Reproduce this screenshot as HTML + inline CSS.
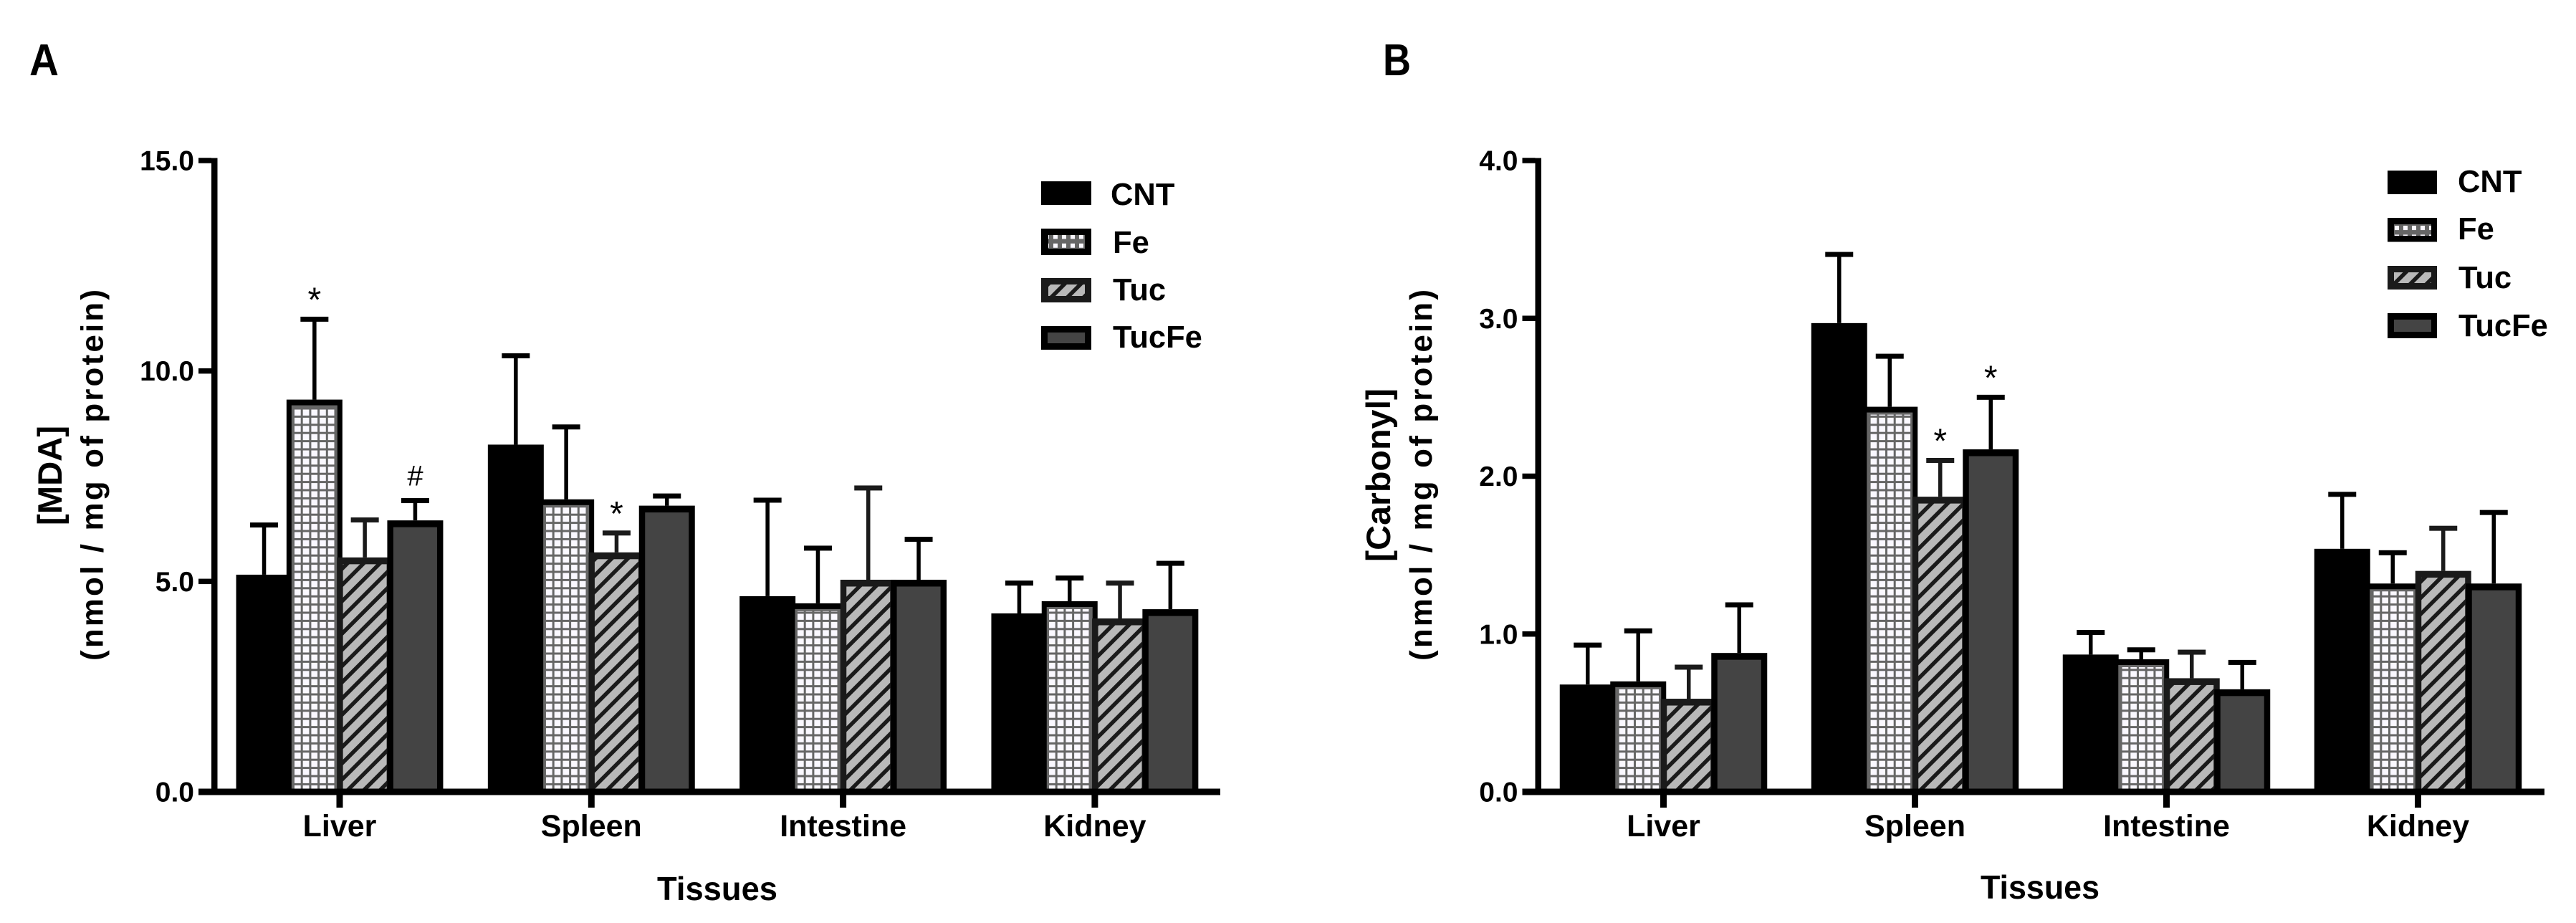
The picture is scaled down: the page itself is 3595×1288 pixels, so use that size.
<!DOCTYPE html>
<html lang="en">
<head>
<meta charset="utf-8">
<title>MDA and Carbonyl by tissue</title>
<style>
  html, body { margin: 0; padding: 0; background: #fff; }
  svg { display: block; }
  text { font-family: "Liberation Sans", Arial, sans-serif; fill: #000; }
  .b { font-weight: bold; }
</style>
</head>
<body>
<svg id="figure" xmlns="http://www.w3.org/2000/svg" width="3595" height="1288" viewBox="0 0 3595 1288">
  <defs>
    <pattern id="grid" patternUnits="userSpaceOnUse" width="11.7" height="11.4">
      <rect width="11.7" height="11.4" fill="#666"/>
      <rect x="1.5" y="1.5" width="8.7" height="8.4" fill="#faf8ff"/>
    </pattern>
    <pattern id="stripes" patternUnits="userSpaceOnUse" width="16" height="16" patternTransform="rotate(45)">
      <rect width="16" height="16" fill="#b9b9b9"/>
      <rect width="5.5" height="16" fill="#1a1a1a"/>
    </pattern>
    <pattern id="legend-grid" patternUnits="userSpaceOnUse" width="12" height="12.4" x="3" y="2">
      <rect width="12" height="12.4" fill="#666"/>
      <rect x="3" y="3" width="6" height="6" fill="#faf8ff"/>
    </pattern>
  </defs>

  <rect width="3595" height="1288" fill="#fff"/>

  <text class="b" x="41" y="105" font-size="62" textLength="41" lengthAdjust="spacingAndGlyphs">A</text>
  <text class="b" x="1930" y="105" font-size="62" textLength="39" lengthAdjust="spacingAndGlyphs">B</text>

  <text class="b" transform="translate(86,663.5) rotate(-90)" text-anchor="middle" font-size="47" textLength="139" lengthAdjust="spacingAndGlyphs">[MDA]</text>
  <text class="b" transform="translate(143.5,663) rotate(-90)" text-anchor="middle" font-size="44" textLength="518" lengthAdjust="spacing">(nmol / mg of protein)</text>
  <text class="b" x="1001" y="1256" text-anchor="middle" font-size="46" textLength="168" lengthAdjust="spacingAndGlyphs">Tissues</text>

  <text class="b" transform="translate(1940,663) rotate(-90)" text-anchor="middle" font-size="47" textLength="242" lengthAdjust="spacingAndGlyphs">[Carbonyl]</text>
  <text class="b" transform="translate(1998,663) rotate(-90)" text-anchor="middle" font-size="44" textLength="518" lengthAdjust="spacing">(nmol / mg of protein)</text>
  <text class="b" x="2847" y="1254" text-anchor="middle" font-size="46" textLength="166" lengthAdjust="spacingAndGlyphs">Tissues</text>

  <g id="panel-a"></g>
  <g id="panel-b"></g>

  <g>
    <rect x="1453" y="253" width="70" height="33" fill="#000"/>
    <text class="b" x="1550" y="286" font-size="43.5">CNT</text>
    <rect x="1453" y="319" width="70" height="37" fill="#000"/>
    <rect x="1463" y="328" width="51" height="19" fill="url(#legend-grid)"/>
    <text class="b" x="1553" y="353" font-size="43.5">Fe</text>
    <rect x="1453" y="388" width="70" height="34" fill="#1a1a1a"/>
    <rect x="1463" y="397" width="51" height="16" fill="url(#stripes)"/>
    <text class="b" x="1553" y="419" font-size="43.5">Tuc</text>
    <rect x="1453" y="455" width="70" height="33" fill="#000"/>
    <rect x="1462" y="464" width="52" height="15" fill="#444"/>
    <text class="b" x="1553" y="485" font-size="43.5">TucFe</text>
  </g>

  <g>
    <rect x="3332" y="238" width="69" height="33" fill="#000"/>
    <text class="b" x="3430" y="268" font-size="43.5">CNT</text>
    <rect x="3332" y="304" width="69" height="33.5" fill="#000"/>
    <rect x="3341" y="313" width="52" height="16" fill="url(#legend-grid)"/>
    <text class="b" x="3430" y="334" font-size="43.5">Fe</text>
    <rect x="3332" y="371" width="69" height="33" fill="#1a1a1a"/>
    <rect x="3341" y="380" width="52" height="15" fill="url(#stripes)"/>
    <text class="b" x="3431" y="402" font-size="43.5">Tuc</text>
    <rect x="3332" y="437" width="69" height="35" fill="#000"/>
    <rect x="3341" y="446" width="52" height="17" fill="#444"/>
    <text class="b" x="3431" y="469" font-size="43.5">TucFe</text>
  </g>
</svg>

<script>
// Shared categories and groups
const tissues = ['Liver', 'Spleen', 'Intestine', 'Kidney'];
const groups = ['CNT', 'Fe', 'Tuc', 'TucFe'];

// Panel A: MDA means
const mdaCnt = [5.16, 8.25, 4.65, 4.24];
const mdaFe = [9.32, 6.95, 4.48, 4.53];
const mdaTuc = [5.57, 5.69, 5.04, 4.12];
const mdaTucFe = [6.45, 6.80, 5.04, 4.34];
// Panel A: upper error-bar values
const mdaCntUpper = [6.34, 10.36, 6.93, 4.96];
const mdaFeUpper = [11.23, 8.67, 5.79, 5.08];
const mdaTucUpper = [6.46, 6.15, 7.22, 4.96];
const mdaTucFeUpper = [6.92, 7.03, 6.00, 5.43];
const mdaTicks = ['0.0', '5.0', '10.0', '15.0'];
// Significance marks: tissue index, group index, symbol
const mdaNotes = [[0, 1, '*'], [0, 3, '#'], [1, 2, '*']];

// Panel B: Carbonyl means
const carbonylCnt = [0.68, 2.97, 0.87, 1.54];
const carbonylFe = [0.70, 2.44, 0.84, 1.32];
const carbonylTuc = [0.59, 1.87, 0.72, 1.40];
const carbonylTucFe = [0.88, 2.17, 0.65, 1.32];
// Panel B: upper error-bar values
const carbonylCntUpper = [0.93, 3.405, 1.01, 1.885];
const carbonylFeUpper = [1.02, 2.76, 0.90, 1.515];
const carbonylTucUpper = [0.79, 2.10, 0.885, 1.67];
const carbonylTucFeUpper = [1.185, 2.50, 0.82, 1.77];
const carbonylTicks = ['0.0', '1.0', '2.0', '3.0', '4.0'];
const carbonylNotes = [[1, 2, '*'], [1, 3, '*']];

const SVG_NS = 'http://www.w3.org/2000/svg';

function mk(tag, attrs, parent) {
  const el = document.createElementNS(SVG_NS, tag);
  for (const k in attrs) el.setAttribute(k, attrs[k]);
  parent.appendChild(el);
  return el;
}

function drawPanel(opts) {
  const root = document.getElementById(opts.id);
  const yScale = v => opts.baseY - (v / opts.yMax) * opts.plotH;
  const xScale = (cat, grp) => opts.firstCat + cat * opts.catStep + (grp - 1.5) * opts.barStep;
  const barW = 78;

  opts.series.forEach((values, g) => {
    const groupName = groups[g].toLowerCase();
    values.forEach((v, c) => {
      const cx = xScale(c, g);
      const top = yScale(v);
      const upper = yScale(opts.uppers[g][c]);
      const tissueName = tissues[c].toLowerCase();

      const stem = mk('rect', { x: cx - 2.75, y: upper, width: 5.5, height: top - upper, fill: g === 2 ? '#1a1a1a' : '#000' }, root);
      
      

      const cap = mk('rect', { x: cx - 19.5, y: upper - 3.5, width: 39, height: 7, fill: g === 2 ? '#1a1a1a' : '#000' }, root);
      
      

      const bar = mk('rect', { x: cx - barW / 2, y: top, width: barW, height: opts.baseY - top, fill: g === 2 ? '#1a1a1a' : '#000' }, root);
      
      

      if (g > 0) {
        const fill = g === 1 ? 'url(#grid)' : g === 2 ? 'url(#stripes)' : '#444';
        const inset = mk('rect', { x: cx - barW / 2 + 8.5, y: top + 9.5, width: barW - 17, height: Math.max(0, opts.baseY - top - 9.5), fill: fill }, root);
        if (g === 1) {
          inset.setAttribute('stroke', '#666');
          inset.setAttribute('stroke-width', '3');
        }
        
        
      }
    });
  });

  opts.notes.forEach(note => {
    const cat = note[0];
    const grp = note[1];
    const symbol = note[2];
    const isHash = symbol === '#';
    const mark = mk('text', {
      x: xScale(cat, grp),
      y: yScale(opts.uppers[grp][cat]) - (isHash ? 21 : 11),
      'text-anchor': 'middle',
      'font-size': isHash ? 40 : 48
    }, root);
    mark.textContent = symbol;
    
    
  });

  const yAxis = mk('rect', { x: opts.axisX, y: yScale(opts.yMax) - 3.5, width: 8.5, height: opts.baseY + 4 - yScale(opts.yMax) + 3.5, fill: '#000' }, root);
  
  

  const xAxis = mk('rect', { x: opts.axisX - 18, y: opts.baseY - 4.5, width: opts.axisEnd - opts.axisX + 18, height: 9, fill: '#000' }, root);
  
  

  opts.ticks.forEach(label => {
    const y = yScale(parseFloat(label));
    const tick = mk('rect', { x: opts.axisX - 18, y: y - 3.75, width: 18, height: 7.5, fill: '#000' }, root);
    
    

    const text = mk('text', { x: opts.axisX - 24, y: y + 13.5, 'text-anchor': 'end', 'font-size': 39, 'font-weight': 'bold' }, root);
    text.textContent = label;
    
    
  });

  tissues.forEach((name, c) => {
    const x = opts.firstCat + c * opts.catStep;
    const tick = mk('rect', { x: x - 4.5, y: opts.baseY + 4, width: 9, height: 18, fill: '#000' }, root);
    
    

    const text = mk('text', { x: x, y: 1167, 'text-anchor': 'middle', 'font-size': 43, 'font-weight': 'bold' }, root);
    text.textContent = name;
    
    
  });
}

drawPanel({
  id: 'panel-a',
  series: [mdaCnt, mdaFe, mdaTuc, mdaTucFe],
  uppers: [mdaCntUpper, mdaFeUpper, mdaTucUpper, mdaTucFeUpper],
  ticks: mdaTicks,
  notes: mdaNotes,
  yMax: 15,
  baseY: 1105,
  plotH: 881,
  axisX: 295,
  axisEnd: 1703,
  firstCat: 474,
  catStep: 351.3,
  barStep: 70.3
});

drawPanel({
  id: 'panel-b',
  series: [carbonylCnt, carbonylFe, carbonylTuc, carbonylTucFe],
  uppers: [carbonylCntUpper, carbonylFeUpper, carbonylTucUpper, carbonylTucFeUpper],
  ticks: carbonylTicks,
  notes: carbonylNotes,
  yMax: 4,
  baseY: 1105,
  plotH: 881,
  axisX: 2142.5,
  axisEnd: 3551,
  firstCat: 2321.5,
  catStep: 351,
  barStep: 70.5
});
</script>
</body>
</html>
